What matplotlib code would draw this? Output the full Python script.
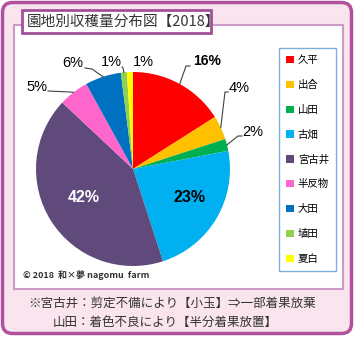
import matplotlib
matplotlib.use('Agg')
import matplotlib.pyplot as plt
from matplotlib.patches import Rectangle, FancyBboxPatch
import numpy as np

plt.rcParams['font.family'] = ['Noto Sans CJK JP', 'DejaVu Sans']

# data
names = ['久平', '出合', '山田', '古畑', '宮古井', '半反物', '大田', '埴田', '夏白']
values = [16, 4, 2, 23, 42, 5, 6, 1, 1]
colors = ['#ff0000', '#ffc000', '#00b050', '#00b0f0', '#604a7b',
          '#ff66cc', '#0070c0', '#92d050', '#ffff00']
title = '園地別収穫量分布図【2018】'
note1 = '※宮古井：剪定不備により【小玉】⇒一部着果放棄'
note2 = '山田：着色不良により【半分着果放置】'
credit = '© 2018  和×夢 nagomu  farm'

W, H = 355, 338
fig = plt.figure(figsize=(W/100, H/100), dpi=100)
fig.patch.set_facecolor('white')

# background in pixel coords
bg = fig.add_axes([0, 0, 1, 1])
bg.set_xlim(0, W)
bg.set_ylim(H, 0)
bg.axis('off')
bg.add_patch(FancyBboxPatch((2.5, 2.5), 349, 331, boxstyle='round,pad=0,rounding_size=10',
                            facecolor='#fae4ed', edgecolor='#b0519f', lw=2.5))
bg.add_patch(Rectangle((14, 25), 329, 264, facecolor='white', edgecolor='#c99bc6', lw=1.5))
bg.add_patch(Rectangle((22, 10), 189, 23, facecolor='white', edgecolor='#a2509a', lw=2))
bg.text(27, 21.5, title, fontsize=10.5, color='#333333', va='center', ha='left')
bg.text(23, 275, credit, fontsize=6.5, fontweight='bold', color='#333333', va='center')
bg.text(28, 303, note1, fontsize=9, color='#333333', va='center')
bg.text(53, 322, note2, fontsize=9, color='#333333', va='center')

# pie: centre (133,169) px, radius 97 px
cx, cy, R = 133, 169, 97
ax = fig.add_axes([(cx-R)/W, (H-cy-R)/H, 2*R/W, 2*R/H])
wedges, _ = ax.pie(values, colors=colors, startangle=90, counterclock=False,
                   radius=1, wedgeprops=dict(linewidth=0))
ax.set_xlim(-1, 1)
ax.set_ylim(-1, 1)
ax.set_clip_on(False)

def p(px, py):
    return ((px-cx)/R, (cy-py)/R)

# label layout (pixel positions), leader start/knee, style
lay = [
    ((207, 61), [(190, 66), (186, 66)], 10, 'bold', 'black'),
    ((239, 88), [(228, 92), (225, 92)], 10.5, 'normal', 'black'),
    ((253, 132), [(242, 136), (238, 136)], 10.5, 'normal', 'black'),
    ((190, 197), None, 11.5, 'bold', 'black'),
    ((84, 198), None, 11.5, 'bold', 'white'),
    ((37, 87), [(48, 91), (70, 92)], 10.5, 'normal', 'black'),
    ((73, 63), [(85, 68), (92, 69)], 10.5, 'normal', 'black'),
    ((111, 62), [(122, 67), (123, 68)], 10.5, 'normal', 'black'),
    ((143, 62), None, 10.5, 'normal', 'black'),
]
for w, v, (pos, lead, fs, fw, fc) in zip(wedges, values, lay):
    x, y = p(*pos)
    ax.text(x, y, f'{v}%', fontsize=fs, fontweight=fw, color=fc,
            family=['Liberation Sans'], ha='center', va='center', clip_on=False)
    if lead:
        mid = np.deg2rad((w.theta1 + w.theta2) / 2)
        pts = [p(*q) for q in lead] + [(np.cos(mid), np.sin(mid))]
        xs, ys = zip(*pts)
        ax.plot(xs, ys, color='#404040', lw=0.8, clip_on=False)

leg = fig.legend(wedges, names, loc='upper left',
                 bbox_to_anchor=(279/W, 1-48/H), fontsize=7.5, frameon=True,
                 fancybox=False, edgecolor='#5b9bd5', handlelength=0.7,
                 handleheight=0.7, handletextpad=0.4, labelspacing=1.42,
                 borderpad=0.7, borderaxespad=0)
leg.get_frame().set_linewidth(1.0)

fig.savefig('out.png', dpi=100, facecolor=fig.get_facecolor())
